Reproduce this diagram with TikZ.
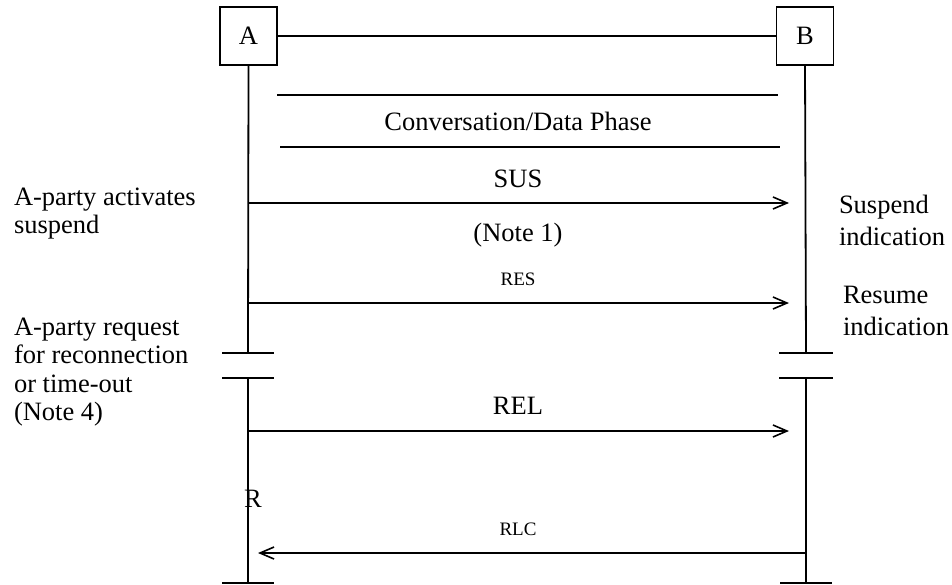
\documentclass[tikz,border=0pt]{standalone}
\usepackage{fontspec}
\setmainfont{Liberation Serif}
\usetikzlibrary{arrows.meta}
\begin{document}
\begin{tikzpicture}[x=1pt,y=-1pt,
  every node/.style={inner sep=0pt,outer sep=0pt,font=\fontsize{26.5}{28}\selectfont},
  entity/.style={draw,line width=1.8pt,minimum width=57pt,minimum height=58pt},
  lline/.style={line width=1.8pt},
  msg/.style={line width=1.8pt,-{Straight Barb[length=14pt,width=12pt,line width=1.6pt]}},
  small/.style={font=\fontsize{19}{21}\selectfont},
  lbl/.style={anchor=base west},
  mid/.style={anchor=base}]
\useasboundingbox (0,0) rectangle (952,584);
% entities
\node[entity] (A) at (248.5,36) {A};
\node[entity] (B) at (805,36) {B};
\draw[lline] (A.east) -- (B.west);
% lifeline coordinates
\coordinate (A1) at (248,353); \coordinate (A2) at (248,378); \coordinate (A3) at (248,583);
\coordinate (B1) at (806,353); \coordinate (B2) at (806,378); \coordinate (B3) at (806,583);
\draw[lline] (A.south) -- (A1);
\draw[lline] (A2) -- (A3);
\draw[lline] (B.south) -- (B1);
\draw[lline] (B2) -- (B3);
% break ticks
\draw[lline] ([xshift=-26pt]A1) -- ([xshift=26pt]A1);
\draw[lline] ([xshift=-26pt]A2) -- ([xshift=26pt]A2);
\draw[lline] ([xshift=-27pt]B1) -- ([xshift=27pt]B1);
\draw[lline] ([xshift=-27pt]B2) -- ([xshift=27pt]B2);
\draw[lline] ([xshift=-26pt]A3) -- ([xshift=26pt]A3);
\draw[lline] ([xshift=-26pt]B3) -- ([xshift=26pt]B3);
% conversation phase
\coordinate (c1) at (277,95); \coordinate (c2) at (778,95);
\coordinate (c3) at (280,147); \coordinate (c4) at (780,147);
\draw[lline] (c1) -- (c2);
\draw[lline] (c3) -- (c4);
\node[mid] (conv) at (518,130) {Conversation/Data Phase};
% messages
\coordinate (sA) at (248,203); \coordinate (sB) at (789,203);
\draw[msg] (sA) -- (sB);
\node[mid] (sus) at (518,187) {SUS};
\node[mid] (n1) at (518,241) {(Note 1)};
\coordinate (rA) at (248,303); \coordinate (rB) at (789,303);
\draw[msg] (rA) -- (rB);
\node[mid,small] (res) at (518,285) {RES};
\coordinate (lA) at (248,431); \coordinate (lB) at (789,431);
\draw[msg] (lA) -- (lB);
\node[mid] (rel) at (518,414) {REL};
\node[mid] (R) at (253,507) {R};
\coordinate (cB) at (806,553); \coordinate (cA) at (258,553);
\draw[msg] (cB) -- (cA);
\node[mid,small] (rlc) at (518,535) {RLC};
% side labels
\node[lbl] (l1) at (14,205) {A-party activates};
\node[lbl] (l2) at (14,233) {suspend};
\node[lbl] (l3) at (14,335) {A-party request};
\node[lbl] (l4) at (14,363) {for reconnection};
\node[lbl] (l5) at (14,392) {or time-out};
\node[lbl] (l6) at (14,420) {(Note 4)};
\node[lbl] (r1) at (839,213) {Suspend};
\node[lbl] (r2) at (839,245) {indication};
\node[lbl] (r3) at (843,303) {Resume};
\node[lbl] (r4) at (843,335) {indication};
\end{tikzpicture}
\end{document}
